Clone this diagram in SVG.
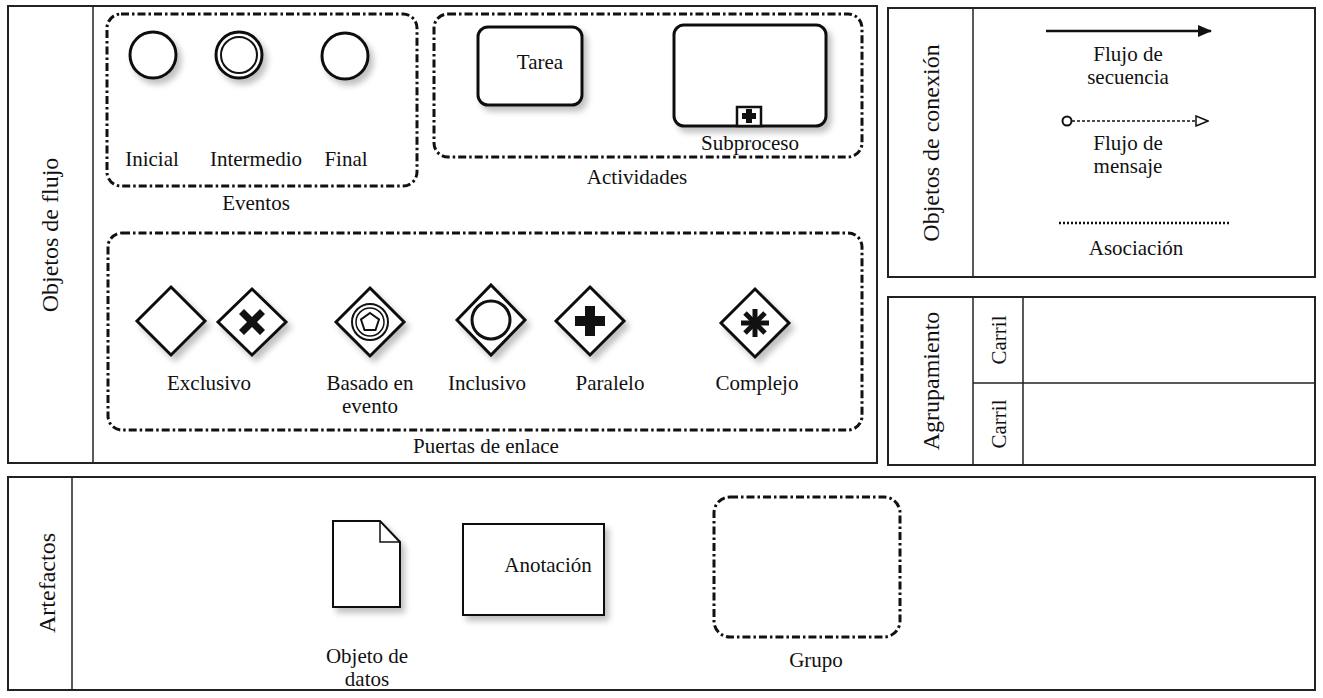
<svg xmlns="http://www.w3.org/2000/svg" width="1323" height="698" viewBox="0 0 1323 698" font-family="'Liberation Serif', 'DejaVu Serif', Times, serif">
<style>
.t{font-family:'Liberation Serif','DejaVu Serif',Times,serif;font-size:21px;fill:#111;text-anchor:middle}
.tv{font-family:'Liberation Serif','DejaVu Serif',Times,serif;font-size:24px;fill:#111;text-anchor:middle}
.frame{fill:#fff;stroke:#222;stroke-width:2}
.ln{stroke:#222;stroke-width:1.5;fill:none}
.grp{fill:none;stroke:#111;stroke-width:3;stroke-dasharray:8 3 2.5 3;stroke-linecap:butt}
.sh{fill:#fff;stroke:#111;stroke-width:3;filter:url(#ds)}
.blk{fill:#111;stroke:none}
</style>
<defs>
<filter id="ds" x="-30%" y="-30%" width="170%" height="170%">
<feGaussianBlur in="SourceAlpha" stdDeviation="3"/>
<feOffset dx="4" dy="5" result="b"/>
<feComponentTransfer><feFuncA type="linear" slope="0.25"/></feComponentTransfer>
<feMerge><feMergeNode/><feMergeNode in="SourceGraphic"/></feMerge>
</filter>
<marker id="solid" markerWidth="14" markerHeight="12" refX="13" refY="6" orient="auto" markerUnits="userSpaceOnUse">
<path d="M0,0 L14,6 L0,12 Z" fill="#111"/>
</marker>
<marker id="open" markerWidth="14" markerHeight="12" refX="13" refY="6" orient="auto" markerUnits="userSpaceOnUse">
<path d="M1,1 L13,6 L1,11 Z" fill="#fff" stroke="#111" stroke-width="1.5"/>
</marker>
</defs>
<rect width="1323" height="698" fill="#fff"/>

<g id="flujo-frame">
<rect class="frame" x="8" y="6" width="869" height="457"/>
<line class="ln" x1="93" y1="6" x2="93" y2="463"/>
<text class="tv" transform="translate(58,235) rotate(-90)">Objetos de flujo</text>
</g>

<g id="eventos">
<rect class="grp" x="107" y="14" width="310" height="172" rx="14"/>
<text class="t" x="256" y="210">Eventos</text>
</g>
<g id="ev-inicial">
<circle class="sh" cx="153" cy="55" r="23"/>
<text class="t" x="152" y="166">Inicial</text>
</g>
<g id="ev-intermedio">
<circle class="sh" cx="239" cy="55" r="23" stroke-width="4"/>
<circle cx="239" cy="55" r="18" fill="none" stroke="#111" stroke-width="2"/>
<text class="t" x="256" y="166">Intermedio</text>
</g>
<g id="ev-final">
<circle class="sh" cx="345" cy="56" r="23"/>
<text class="t" x="346" y="166">Final</text>
</g>

<g id="actividades">
<rect class="grp" x="434" y="14" width="428" height="143" rx="14"/>
<text class="t" x="637" y="184">Actividades</text>
</g>
<g id="tarea">
<rect class="sh" x="478" y="27" width="104" height="78" rx="10"/>
<text class="t" x="540" y="69">Tarea</text>
</g>
<g id="subproceso">
<rect class="sh" x="674" y="25" width="152" height="101" rx="10"/>
<rect x="737" y="107" width="24" height="19" fill="#fff" stroke="#111" stroke-width="2.5"/>
<path class="blk" d="M746,109 h6 v4 h4 v6 h-4 v4 h-6 v-4 h-4 v-6 h4 z"/>
<text class="t" x="750" y="150">Subproceso</text>
</g>

<g id="puertas">
<rect class="grp" x="108" y="233" width="754" height="197" rx="14"/>
<text class="t" x="486" y="453">Puertas de enlace</text>
</g>
<g id="gw-exclusivo">
<path class="sh" d="M171,287 L205,321 L171,355 L137,321 Z"/>
<path class="sh" d="M252,289 L286,322 L252,355 L218,322 Z"/>
<path class="blk" d="M239,314 l5,-5 l8,8 l8,-8 l5,5 l-8,8 l8,8 l-5,5 l-8,-8 l-8,8 l-5,-5 l8,-8 z"/>
<text class="t" x="209" y="390">Exclusivo</text>
</g>
<g id="gw-evento">
<path class="sh" d="M370,288 L404,322 L370,356 L336,322 Z"/>
<circle cx="370" cy="322" r="18" fill="none" stroke="#111" stroke-width="2"/>
<circle cx="370" cy="322" r="14" fill="none" stroke="#111" stroke-width="1.5"/>
<path d="M370,313 L379,319.5 L375.5,330 L364.5,330 L361,319.5 Z" fill="none" stroke="#111" stroke-width="2"/>
<text class="t" x="370" y="390">Basado en</text>
<text class="t" x="370" y="413">evento</text>
</g>
<g id="gw-inclusivo">
<path class="sh" d="M491,285 L525,320 L491,355 L457,320 Z"/>
<circle cx="491" cy="320" r="19" fill="none" stroke="#111" stroke-width="3"/>
<text class="t" x="487" y="390">Inclusivo</text>
</g>
<g id="gw-paralelo">
<path class="sh" d="M590,287 L624,321 L590,355 L556,321 Z"/>
<path class="blk" d="M585,306 h10 v10 h10 v10 h-10 v10 h-10 v-10 h-10 v-10 h10 z"/>
<text class="t" x="610" y="390">Paralelo</text>
</g>
<g id="gw-complejo">
<path class="sh" d="M755,289 L789,323 L755,357 L721,323 Z"/>
<g stroke="#111" stroke-width="5" stroke-linecap="butt">
<line x1="755" y1="309" x2="755" y2="337"/>
<line x1="741" y1="323" x2="769" y2="323"/>
<line x1="745" y1="313" x2="765" y2="333"/>
<line x1="765" y1="313" x2="745" y2="333"/>
</g>
<text class="t" x="757" y="390">Complejo</text>
</g>

<g id="conexion">
<rect class="frame" x="888" y="8" width="427" height="269"/>
<line class="ln" x1="973" y1="8" x2="973" y2="277"/>
<text class="tv" transform="translate(939,143) rotate(-90)">Objetos de conexión</text>
<text class="t" x="1128" y="61">Flujo de</text>
<text class="t" x="1128" y="84">secuencia</text>
<text class="t" x="1128" y="150">Flujo de</text>
<text class="t" x="1128" y="173">mensaje</text>
<text class="t" x="1136" y="255">Asociación</text>
</g>
<g id="connectors">
<line x1="1046" y1="31" x2="1211" y2="31" stroke="#111" stroke-width="2.5" marker-end="url(#solid)"/>
<circle cx="1067" cy="121" r="4.5" fill="#fff" stroke="#111" stroke-width="2"/>
<line x1="1072" y1="121" x2="1208" y2="121" stroke="#111" stroke-width="1.5" stroke-dasharray="3 2" marker-end="url(#open)"/>
<line x1="1059" y1="223" x2="1230" y2="223" stroke="#111" stroke-width="2.5" stroke-dasharray="2 2"/>
<line x1="402" y1="565" x2="462" y2="565" stroke="#111" stroke-width="3" stroke-dasharray="2 2"/>
</g>

<g id="agrupamiento">
<rect class="frame" x="888" y="297" width="427" height="168"/>
<line class="ln" x1="973" y1="297" x2="973" y2="465"/>
<line class="ln" x1="1023" y1="297" x2="1023" y2="465"/>
<line class="ln" x1="973" y1="383" x2="1315" y2="383"/>
<text class="tv" transform="translate(939,381) rotate(-90)">Agrupamiento</text>
<text class="t" font-size="22" transform="translate(1006,340) rotate(-90)">Carril</text>
<text class="t" font-size="22" transform="translate(1006,424) rotate(-90)">Carril</text>
</g>

<g id="artefactos">
<rect class="frame" x="8" y="477" width="1307" height="213"/>
<line class="ln" x1="72" y1="477" x2="72" y2="690"/>
<text class="tv" transform="translate(55,583) rotate(-90)">Artefactos</text>
</g>
<g id="objeto-datos">
<path d="M333,521 H380 L400,542 V607 H333 Z" fill="#fff" stroke="#111" stroke-width="2" filter="url(#ds)"/>
<path d="M380,521 V542 H400" fill="none" stroke="#111" stroke-width="1.5"/>
<text class="t" x="367" y="663">Objeto de</text>
<text class="t" x="367" y="686">datos</text>
</g>
<g id="anotacion">
<rect x="463" y="524" width="141" height="91" fill="#fff" stroke="#111" stroke-width="2" filter="url(#ds)"/>
<text class="t" x="548" y="572">Anotación</text>
</g>
<g id="grupo">
<rect class="grp" x="714" y="497" width="186" height="140" rx="16"/>
<text class="t" x="816" y="667">Grupo</text>
</g>
</svg>
